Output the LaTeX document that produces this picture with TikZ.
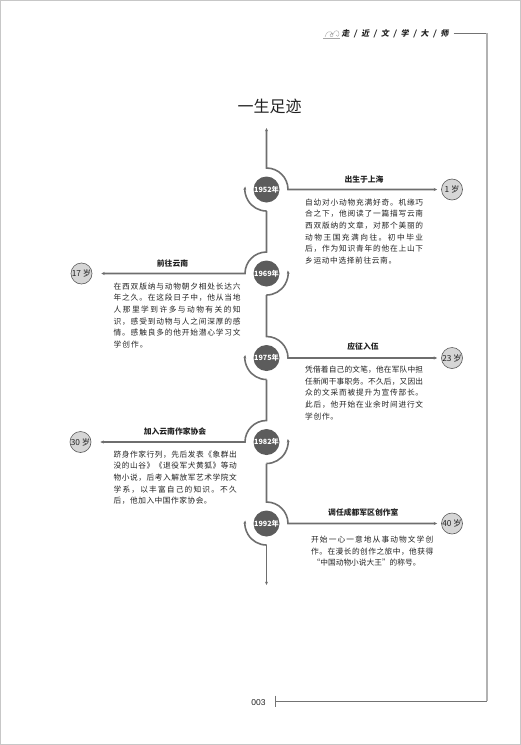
\documentclass[tikz,border=0pt]{standalone}
\usepackage{fontspec}
\setmainfont{Liberation Sans}
\newfontfamily\cjk{Noto Sans CJK SC}
\newfontfamily\cjkhead[FakeSlant=0.15]{Noto Sans CJK SC}
\usetikzlibrary{arrows.meta,calc}
\definecolor{lc}{HTML}{6E6E6E}
\definecolor{yc}{HTML}{5C5C5C}
\definecolor{ac}{HTML}{5A5A5A}
\definecolor{af}{HTML}{D6D6D6}
\definecolor{txt}{HTML}{222222}
\def\jlend{\jlend@marker}
\def\jl#1#2{\hbox to #1{\jlx#2\jlend\unskip}}
\def\jlx#1{\ifx#1\jlend\else#1\hfil\expandafter\jlx\fi}
\tikzset{
  tl/.style={draw=lc, line width=1.6pt},
  tipa/.tip={Stealth[length=3.4pt,width=3pt]},
  yr/.style={circle, fill=yc, minimum size=26pt, inner sep=0pt, text=white,
    font=\cjk\bfseries\fontsize{7.2}{8}\selectfont},
  age/.style={circle, draw=ac, fill=af, line width=0.6pt, minimum size=21pt,
    inner sep=0pt, text=txt, font=\cjk\fontsize{8.3}{9}\selectfont},
  ttl/.style={inner sep=0pt, text=txt, font=\cjk\bfseries\fontsize{7.8}{9}\selectfont},
  body/.style={anchor=north west, inner sep=0pt, align=left, text=txt,
    font=\cjk\fontsize{7.7}{11.7}\selectfont},
  hl/.style={draw=black!55, line width=0.8pt},
  vl/.style={draw=black!30, line width=1.6pt},
}
\begin{document}
\begin{tikzpicture}[x=1pt,y=1pt]
\useasboundingbox (0,0) rectangle (521,-745);
\draw[draw=black!22, line width=1.2pt] (0.6,-0.6) rectangle (520.4,-744.4);

% header
\draw[black!35, line width=0.4pt] (325,-37) .. controls (326,-31) and (331,-30) .. (333,-34)
  .. controls (334,-37) and (330,-38) .. (330,-35) .. controls (330,-33) and (333,-33) .. (333,-35);
\draw[black!35, line width=0.4pt] (333,-34) .. controls (335,-29) and (339,-30) .. (339,-34)
  .. controls (339,-37) and (336,-37) .. (336,-35);
\draw[black!35, line width=0.4pt] (323,-38) -- (340,-38);
\node[inner sep=0pt, text=txt] (head) at (395,-33.5)
  {\cjkhead\bfseries\fontsize{8}{9}\selectfont\jl{107pt}{走/近/文/学/大/师}};
\coordinate (h1) at (453.5,-33.3);
\coordinate (h2) at (487,-33.3);
\coordinate (h3) at (487,-701);
\coordinate (h4) at (275,-701);
\draw[hl] (h1) -- (h2);
\draw[vl] (h2) -- (h3);
\draw[hl] (h3) -- (h4);
\draw[hl] (275,-695.5) -- (275,-707);
\node[inner sep=0pt, text=txt, font=\fontsize{8.5}{10}\selectfont] (pg) at (258.5,-702.5) {003};

% title
\node[inner sep=0pt, text=txt, font=\cjk\fontsize{16}{18}\selectfont] (title) at (269.5,-106.7) {一生足迹};

% year circles
\node[yr] (y1) at (266.5,-189.5) {1952年};
\node[yr] (y2) at (266.5,-273.5) {1969年};
\node[yr] (y3) at (266.5,-358) {1975年};
\node[yr] (y4) at (266.5,-442) {1982年};
\node[yr] (y5) at (266.5,-523.5) {1992年};

% age circles
\node[age] (a1) at (452,-189.5) {1 岁};
\node[age] (a2) at (81.5,-273.5) {17 岁};
\node[age] (a3) at (452,-358) {23 岁};
\node[age] (a4) at (80.5,-442) {30 岁};
\node[age] (a5) at (452,-523.5) {40 岁};

\coordinate (top) at (266.5,-128);
\coordinate (bot) at (266.5,-585);

% timeline
\draw[tl,tipa-tipa] (top) -- ($(y1.center)+(0,21.5)$) arc[start angle=90,end angle=0,radius=21.5] -- ([xshift=-4pt]a1.west);
\draw[tl,-tipa] ($(y1.center)+(0,-21.5)$) arc[start angle=270,end angle=172,radius=21.5];
\draw[tl,-tipa] ($(y1.center)+(0,-21.5)$) -- ($(y2.center)+(0,21.5)$) arc[start angle=90,end angle=180,radius=21.5] -- ([xshift=9pt]a2.east);
\draw[tl,-tipa] ($(y2.center)+(0,-21.5)$) arc[start angle=270,end angle=368,radius=21.5];
\draw[tl,-tipa] ($(y2.center)+(0,-21.5)$) -- ($(y3.center)+(0,21.5)$) arc[start angle=90,end angle=0,radius=21.5] -- ([xshift=-4pt]a3.west);
\draw[tl,-tipa] ($(y3.center)+(0,-21.5)$) arc[start angle=270,end angle=172,radius=21.5];
\draw[tl,-tipa] ($(y3.center)+(0,-21.5)$) -- ($(y4.center)+(0,21.5)$) arc[start angle=90,end angle=180,radius=21.5] -- ([xshift=9pt]a4.east);
\draw[tl,-tipa] ($(y4.center)+(0,-21.5)$) arc[start angle=270,end angle=368,radius=21.5];
\draw[tl,-tipa] ($(y4.center)+(0,-21.5)$) -- ($(y5.center)+(0,21.5)$) arc[start angle=90,end angle=0,radius=21.5] -- ([xshift=-4pt]a5.west);
\draw[tl,-tipa] ($(y5.center)+(0,-21.5)$) arc[start angle=270,end angle=172,radius=21.5];
\draw[tl,-tipa] ($(y5.center)+(0,-21.5)$) -- (bot);

% event titles
\node[ttl] (t1) at (364,-179.3) {出生于上海};
\node[ttl] (t2) at (172.5,-264) {前往云南};
\node[ttl] (t3) at (363,-346.7) {应征入伍};
\node[ttl] (t4) at (175,-431.7) {加入云南作家协会};
\node[ttl] (t5) at (363.3,-512.7) {调任成都军区创作室};

% bodies
\node[body] (b1) at (305,-198.4) {%
\jl{118pt}{自幼对小动物充满好奇。机缘巧}\\
\jl{118pt}{合之下，他阅读了一篇描写云南}\\
\jl{118pt}{西双版纳的文章，对那个美丽的}\\
\jl{118pt}{动物王国充满向往。初中毕业}\\
\jl{118pt}{后，作为知识青年的他在上山下}\\
\jl{91pt}{乡运动中选择前往云南。}};

\node[body] (b2) at (113.5,-282.4) {%
\jl{127pt}{在西双版纳与动物朝夕相处长达六}\\
\jl{127pt}{年之久。在这段日子中，他从当地}\\
\jl{127pt}{人那里学到许多与动物有关的知}\\
\jl{127pt}{识，感受到动物与人之间深厚的感}\\
\jl{127pt}{情。感触良多的他开始潜心学习文}\\
\jl{34pt}{学创作。}};

\node[body] (b3) at (305,-365.7) {%
\jl{118pt}{凭借着自己的文笔，他在军队中担}\\
\jl{118pt}{任新闻干事职务。不久后，又因出}\\
\jl{118pt}{众的文采而被提升为宣传部长。}\\
\jl{118pt}{此后，他开始在业余时间进行文}\\
\jl{33pt}{学创作。}};

\node[body] (b4) at (113.5,-450.4) {%
\jl{123pt}{跻身作家行列，先后发表《象群出}\\
\jl{123pt}{没的山谷》《退役军犬黄狐》等动}\\
\jl{123pt}{物小说，后考入解放军艺术学院文}\\
\jl{123pt}{学系，以丰富自己的知识。不久}\\
\jl{98pt}{后，他加入中国作家协会。}};

\node[body] (b5) at (311,-535.7) {%
\jl{122pt}{开始一心一意地从事动物文学创}\\
\jl{122pt}{作。在漫长的创作之旅中，他获得}\\
\hspace{1.5pt}\jl{104pt}{“中国动物小说大王”的称号。}};
\end{tikzpicture}
\end{document}
